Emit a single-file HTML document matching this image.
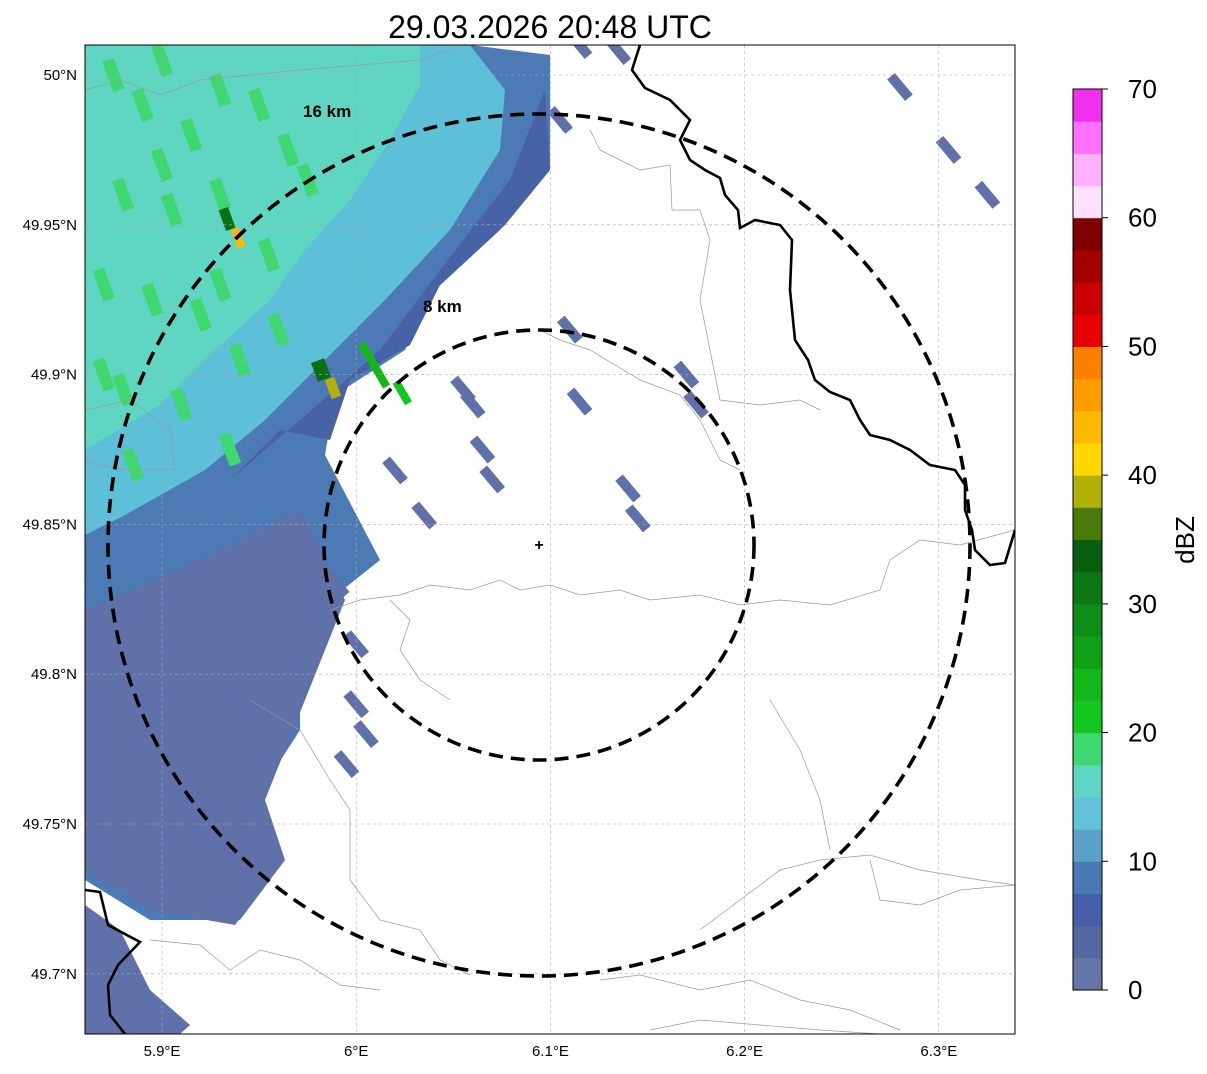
<!DOCTYPE html>
<html><head><meta charset="utf-8"><style>
body{margin:0;background:#fff;width:1207px;height:1069px;overflow:hidden;font-family:"Liberation Sans","DejaVu Sans",sans-serif}
</style></head><body>
<svg width="1207" height="1069" xmlns="http://www.w3.org/2000/svg" font-family="Liberation Sans, DejaVu Sans, sans-serif">
<text x="550" y="38" font-size="32" text-anchor="middle">29.03.2026 20:48 UTC</text>
<defs><clipPath id="mc"><rect x="85" y="45" width="930" height="989"/></clipPath></defs>
<g clip-path="url(#mc)">
<polygon fill="#4c7ab4" points="470,45 550,55 550,170 500,230 435,290 405,350 335,395 325,455 380,560 330,600 300,660 300,730 255,800 285,860 240,920 150,920 85,880 85,45"/>
<polygon fill="#5dbfd8" points="85,45 470,45 505,90 500,150 450,230 385,300 325,360 265,420 205,470 125,515 85,535"/>
<polygon fill="#5fd6c2" points="85,45 420,45 420,85 390,140 350,200 305,250 270,300 215,350 160,405 85,450"/>
<polygon fill="#4862a6" points="545,90 550,170 505,225 440,285 410,345 350,380 330,440 280,430 230,480 300,420 380,350 440,270 510,180"/>
<polygon fill="#6070a8" points="85,610 200,560 300,510 345,600 305,700 265,800 285,860 235,925 150,910 85,870"/>
<polygon fill="#6070a8" points="85,905 120,930 150,990 190,1025 180,1034 85,1034"/>
<g id="blobs"></g>
<g id="greens"></g>
<rect x="222" y="208" width="10" height="22" fill="#0a7014" transform="rotate(-20 227 219)"/>
<rect x="234" y="228" width="8" height="20" fill="#ffb800" transform="rotate(-20 238 238)"/>
<rect x="314" y="360" width="14" height="20" fill="#0a7014" transform="rotate(-20 321 370)"/>
<rect x="328" y="378" width="10" height="20" fill="#b0b008" transform="rotate(-20 333 388)"/>
<rect x="370" y="340" width="8" height="50" fill="#10b818" transform="rotate(-30 374 365)"/>
<rect x="398" y="380" width="8" height="25" fill="#10c820" transform="rotate(-30 402 392)"/>
<g id="grid" stroke="#aaa" stroke-width="0.6" stroke-dasharray="3,3"></g>
<g fill="none" stroke="#999" stroke-width="0.7">
<path d="M330,610 L360,600 L400,595 L430,585 L470,590 L500,580 L520,590 L550,585 L580,595 L620,590 L650,600 L700,595 L740,605 L780,600 L830,605 L880,590 L890,560 L920,540 L960,545 L1015,530"/>
<path d="M590,130 L600,150 L620,160 L640,170 L670,165 L672,210 L700,210 L710,240 L700,300 L710,350 L720,400 L760,405 L800,400 L820,410"/>
<path d="M540,330 L560,340 L590,350 L640,380 L680,395 L700,420 L720,460 L740,470"/>
<path d="M85,90 L120,80 L160,95 L200,80 L250,75 L300,70 L360,65 L420,60 L460,45"/>
<path d="M85,410 L130,400 L170,430 L175,470 L120,470 L85,460"/>
<path d="M390,600 L410,620 L400,650 L420,680 L450,700"/>
<path d="M250,700 L300,730 L330,780 L350,810 L350,880 L380,920 L420,930 L440,960 L470,975"/>
<path d="M150,940 L200,945 L230,970 L260,950 L300,960 L340,985 L380,990"/>
<path d="M600,980 L640,975 L700,990 L750,980 L800,1000 L850,1010 L900,1030"/>
<path d="M700,930 L740,900 L780,870 L820,860 L870,855 L920,870 L980,880 L1015,885"/>
<path d="M870,860 L880,900 L920,905 L960,890 L1015,885"/>
<path d="M770,700 L800,750 L820,800 L830,850"/>
<path d="M650,1030 L700,1020 L760,1025 L820,1030 L880,1034"/>
</g>
<g fill="none" stroke="#000" stroke-width="2.6">
<path d="M640,45 L632,70 L645,88 L670,100 L690,120 L680,140 L690,160 L705,170 L720,178 L725,195 L738,210 L740,228 L755,220 L780,225 L792,240 L790,290 L795,340 L808,360 L815,380 L830,392 L850,400 L860,420 L870,435 L890,440 L910,450 L930,465 L955,470 L965,485 L965,510 L972,530 L975,550 L990,565 L1005,563 L1015,530"/>
<path d="M85,890 L100,892 L108,925 L140,942 L118,965 L108,985 L110,1015 L125,1034"/>
</g>
<g fill="none" stroke="#000" stroke-width="3.6" stroke-dasharray="14,8">
<circle cx="539" cy="545" r="431"/>
<circle cx="539" cy="545" r="215"/>
</g>
<text x="539" y="550" font-size="16" font-weight="bold" text-anchor="middle">+</text>
<text x="303" y="117" font-size="17" font-weight="bold">16 km</text>
<text x="423" y="312" font-size="17" font-weight="bold">8 km</text>
</g>
<rect x="85" y="45" width="930" height="989" fill="none" stroke="#000" stroke-width="1"/>
<g id="xt" font-size="15" text-anchor="middle"></g>
<g id="yt" font-size="15" text-anchor="end"></g>
<g id="cb"></g>
<text transform="translate(1194,540) rotate(-90)" font-size="26" text-anchor="middle">dBZ</text>
</svg>
<script>
const lonTicks=[5.9,6.0,6.1,6.2,6.3];
const lonLabels=["5.9°E","6°E","6.1°E","6.2°E","6.3°E"];
const latTicks=[50.0,49.95,49.9,49.85,49.8,49.75,49.7];
const latLabels=["50°N","49.95°N","49.9°N","49.85°N","49.8°N","49.75°N","49.7°N"];
const cbColors=["#6577a9","#5668a1","#4560a8","#4a7ab2","#5aa2c8","#62c2da","#60d6c2","#3fd870","#12c820","#12b81a","#10a018","#108c18","#0c7814","#066010","#487a0a","#b0b008","#ffd800","#ffb800","#ff9c00","#ff8000","#e80000","#c80000","#a00000","#800000","#ffe0ff","#ffb0ff","#ff70ff","#f030f0"];
const cbTicks=[0,10,20,30,40,50,60,70];
const blobLon=[6.06,6.065,6.07,6.02,6.035,6.055,6.115,6.14,6.145,6.17,6.175,6.11,6.135,6.115,6.105,6.28,6.305,6.325,6.0,6.0,5.995,5.99,6.005];
const blobLat=[49.89,49.875,49.865,49.868,49.853,49.895,49.891,49.862,49.852,49.9,49.89,49.915,50.008,50.01,49.985,49.996,49.975,49.96,49.81,49.79,49.77,49.83,49.78];
const greenLon=[5.875,5.89,5.9,5.915,5.93,5.95,5.965,5.975,5.88,5.905,5.93,5.955,5.87,5.895,5.92,5.94,5.96,5.88,5.91,5.935,5.87,5.9,5.93,5.885];
const greenLat=[50.0,49.99,50.005,49.98,49.995,49.99,49.975,49.965,49.96,49.955,49.96,49.94,49.93,49.925,49.92,49.905,49.915,49.895,49.89,49.875,49.9,49.97,49.93,49.87];
const xS=v=>162+(v-5.9)*1942, yS=v=>75+(50.0-v)*2996;
const NS="http://www.w3.org/2000/svg";
function mk(p,t,a){const e=document.createElementNS(NS,t);for(const k in a)e.setAttribute(k,a[k]);p.appendChild(e);return e;}
const grid=document.getElementById('grid'),xt=document.getElementById('xt'),yt=document.getElementById('yt');
lonTicks.forEach((v,i)=>{const x=xS(v);
 const l=mk(grid,'line',{x1:x,y1:45,x2:x,y2:1034});
 
 
 const t=mk(xt,'text',{x:x,y:1056});t.textContent=lonLabels[i];
 
 });
latTicks.forEach((v,i)=>{const y=yS(v);
 const l=mk(grid,'line',{x1:85,y1:y,x2:1015,y2:y});
 
 
 const t=mk(yt,'text',{x:77,y:y+5});t.textContent=latLabels[i];
 
 });
const blobs=document.getElementById('blobs');
blobLon.forEach((v,i)=>{const x=xS(v),y=yS(blobLat[i]);
 const r=mk(blobs,'rect',{x:x-5,y:y-14,width:10,height:28,fill:'#6070a8',transform:`rotate(-40 ${x} ${y})`});
 
 });
const greens=document.getElementById('greens');
greenLon.forEach((v,i)=>{const x=xS(v),y=yS(greenLat[i]);
 const r=mk(greens,'rect',{x:x-6,y:y-16,width:12,height:32,fill:'#3fd870',transform:`rotate(-20 ${x} ${y})`});
 
 });
const cb=document.getElementById('cb');
const cy=v=>990-(v/70)*901;
cbColors.forEach((c,i)=>{const y0=cy(i*2.5),y1=cy((i+1)*2.5);
 const r=mk(cb,'rect',{x:1073,y:y1,width:29,height:y0-y1+0.5,fill:c});
 
 });
mk(cb,'rect',{x:1073,y:89,width:29,height:901,fill:'none',stroke:'#000','stroke-width':1});
cbTicks.forEach(v=>{const y=cy(v);
 mk(cb,'line',{x1:1102,y1:y,x2:1108,y2:y,stroke:'#000'});
 const t=mk(cb,'text',{x:1128,y:y+9,'font-size':26});t.textContent=v;
 
 });
</script>
</body></html>
